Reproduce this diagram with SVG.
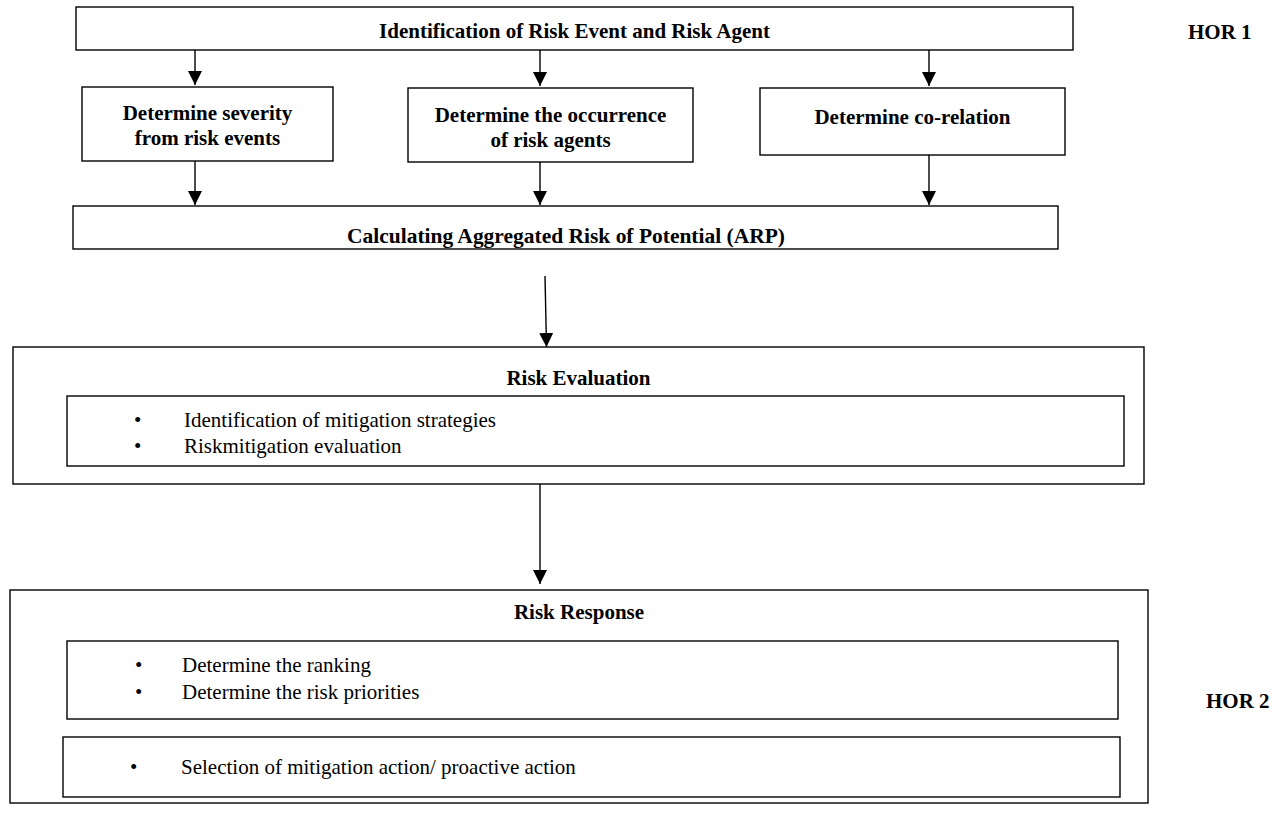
<svg xmlns="http://www.w3.org/2000/svg" width="1279" height="836" viewBox="0 0 1279 836">
<style>
.box{fill:#fff;stroke:#000;stroke-width:1.4}
.b{font-family:"Liberation Serif","Times New Roman",serif;font-size:21px;font-weight:bold;fill:#000}
.r{font-family:"Liberation Serif","Times New Roman",serif;font-size:21px;fill:#000}
.c{text-anchor:middle}
.ln{stroke:#000;stroke-width:1.4;fill:none}
</style>
<defs>
<marker id="ah" viewBox="0 0 14 14" refX="14" refY="7" markerWidth="14" markerHeight="14" markerUnits="userSpaceOnUse" orient="auto">
<path d="M0,0 L14,7 L0,14 z" fill="#000"/>
</marker>
</defs>
<rect width="1279" height="836" fill="#fff"/>

<g id="connectors">
<line class="ln" x1="195" y1="50" x2="195" y2="85" marker-end="url(#ah)"/>
<line class="ln" x1="540" y1="50" x2="540" y2="86" marker-end="url(#ah)"/>
<line class="ln" x1="929" y1="50" x2="929" y2="86" marker-end="url(#ah)"/>
<line class="ln" x1="195" y1="161" x2="195" y2="205" marker-end="url(#ah)"/>
<line class="ln" x1="540" y1="162" x2="540" y2="205" marker-end="url(#ah)"/>
<line class="ln" x1="929" y1="155" x2="929" y2="205" marker-end="url(#ah)"/>
<line class="ln" x1="545" y1="276" x2="546.5" y2="347" marker-end="url(#ah)"/>
<line class="ln" x1="540" y1="484" x2="540" y2="584" marker-end="url(#ah)"/>
</g>

<g id="identification">
<rect class="box" x="76" y="7" width="997" height="43"/>
<text class="b c" x="574.5" y="38">Identification of Risk Event and Risk Agent</text>
</g>

<g id="hor1">
<text class="b" x="1188" y="39">HOR 1</text>
</g>

<g id="severity">
<rect class="box" x="82" y="87" width="251" height="74"/>
<text class="b c" x="207.5" y="120">Determine severity</text>
<text class="b c" x="207.5" y="145">from risk events</text>
</g>

<g id="occurrence">
<rect class="box" x="408" y="88" width="285" height="74"/>
<text class="b c" x="550.5" y="122">Determine the occurrence</text>
<text class="b c" x="550.5" y="147">of risk agents</text>
</g>

<g id="corelation">
<rect class="box" x="760" y="88" width="305" height="67"/>
<text class="b c" x="912.5" y="124">Determine co-relation</text>
</g>

<g id="arp">
<rect class="box" x="73" y="206" width="985" height="43"/>
<text class="b" x="347" y="243" font-size="25" textLength="438" lengthAdjust="spacingAndGlyphs">Calculating Aggregated Risk of Potential (ARP)</text>
</g>

<g id="risk-evaluation">
<rect class="box" x="13" y="347" width="1131" height="137"/>
<text class="b c" x="578.5" y="385">Risk Evaluation</text>
<rect class="box" x="67" y="396" width="1057" height="70"/>
<text class="r" x="134" y="427">•</text>
<text class="r" x="184" y="427">Identification of mitigation strategies</text>
<text class="r" x="134" y="453">•</text>
<text class="r" x="184" y="453">Riskmitigation evaluation</text>
</g>

<g id="risk-response">
<rect class="box" x="10" y="590" width="1138" height="213"/>
<text class="b c" x="579" y="619">Risk Response</text>
<rect class="box" x="67" y="641" width="1051" height="78"/>
<text class="r" x="135" y="672">•</text>
<text class="r" x="182" y="672">Determine the ranking</text>
<text class="r" x="135" y="699">•</text>
<text class="r" x="182" y="699">Determine the risk priorities</text>
<rect class="box" x="63" y="737" width="1057" height="60"/>
<text class="r" x="130" y="774">•</text>
<text class="r" x="181" y="774">Selection of mitigation action/ proactive action</text>
</g>

<g id="hor2">
<text class="b" x="1206" y="708">HOR 2</text>
</g>
</svg>
